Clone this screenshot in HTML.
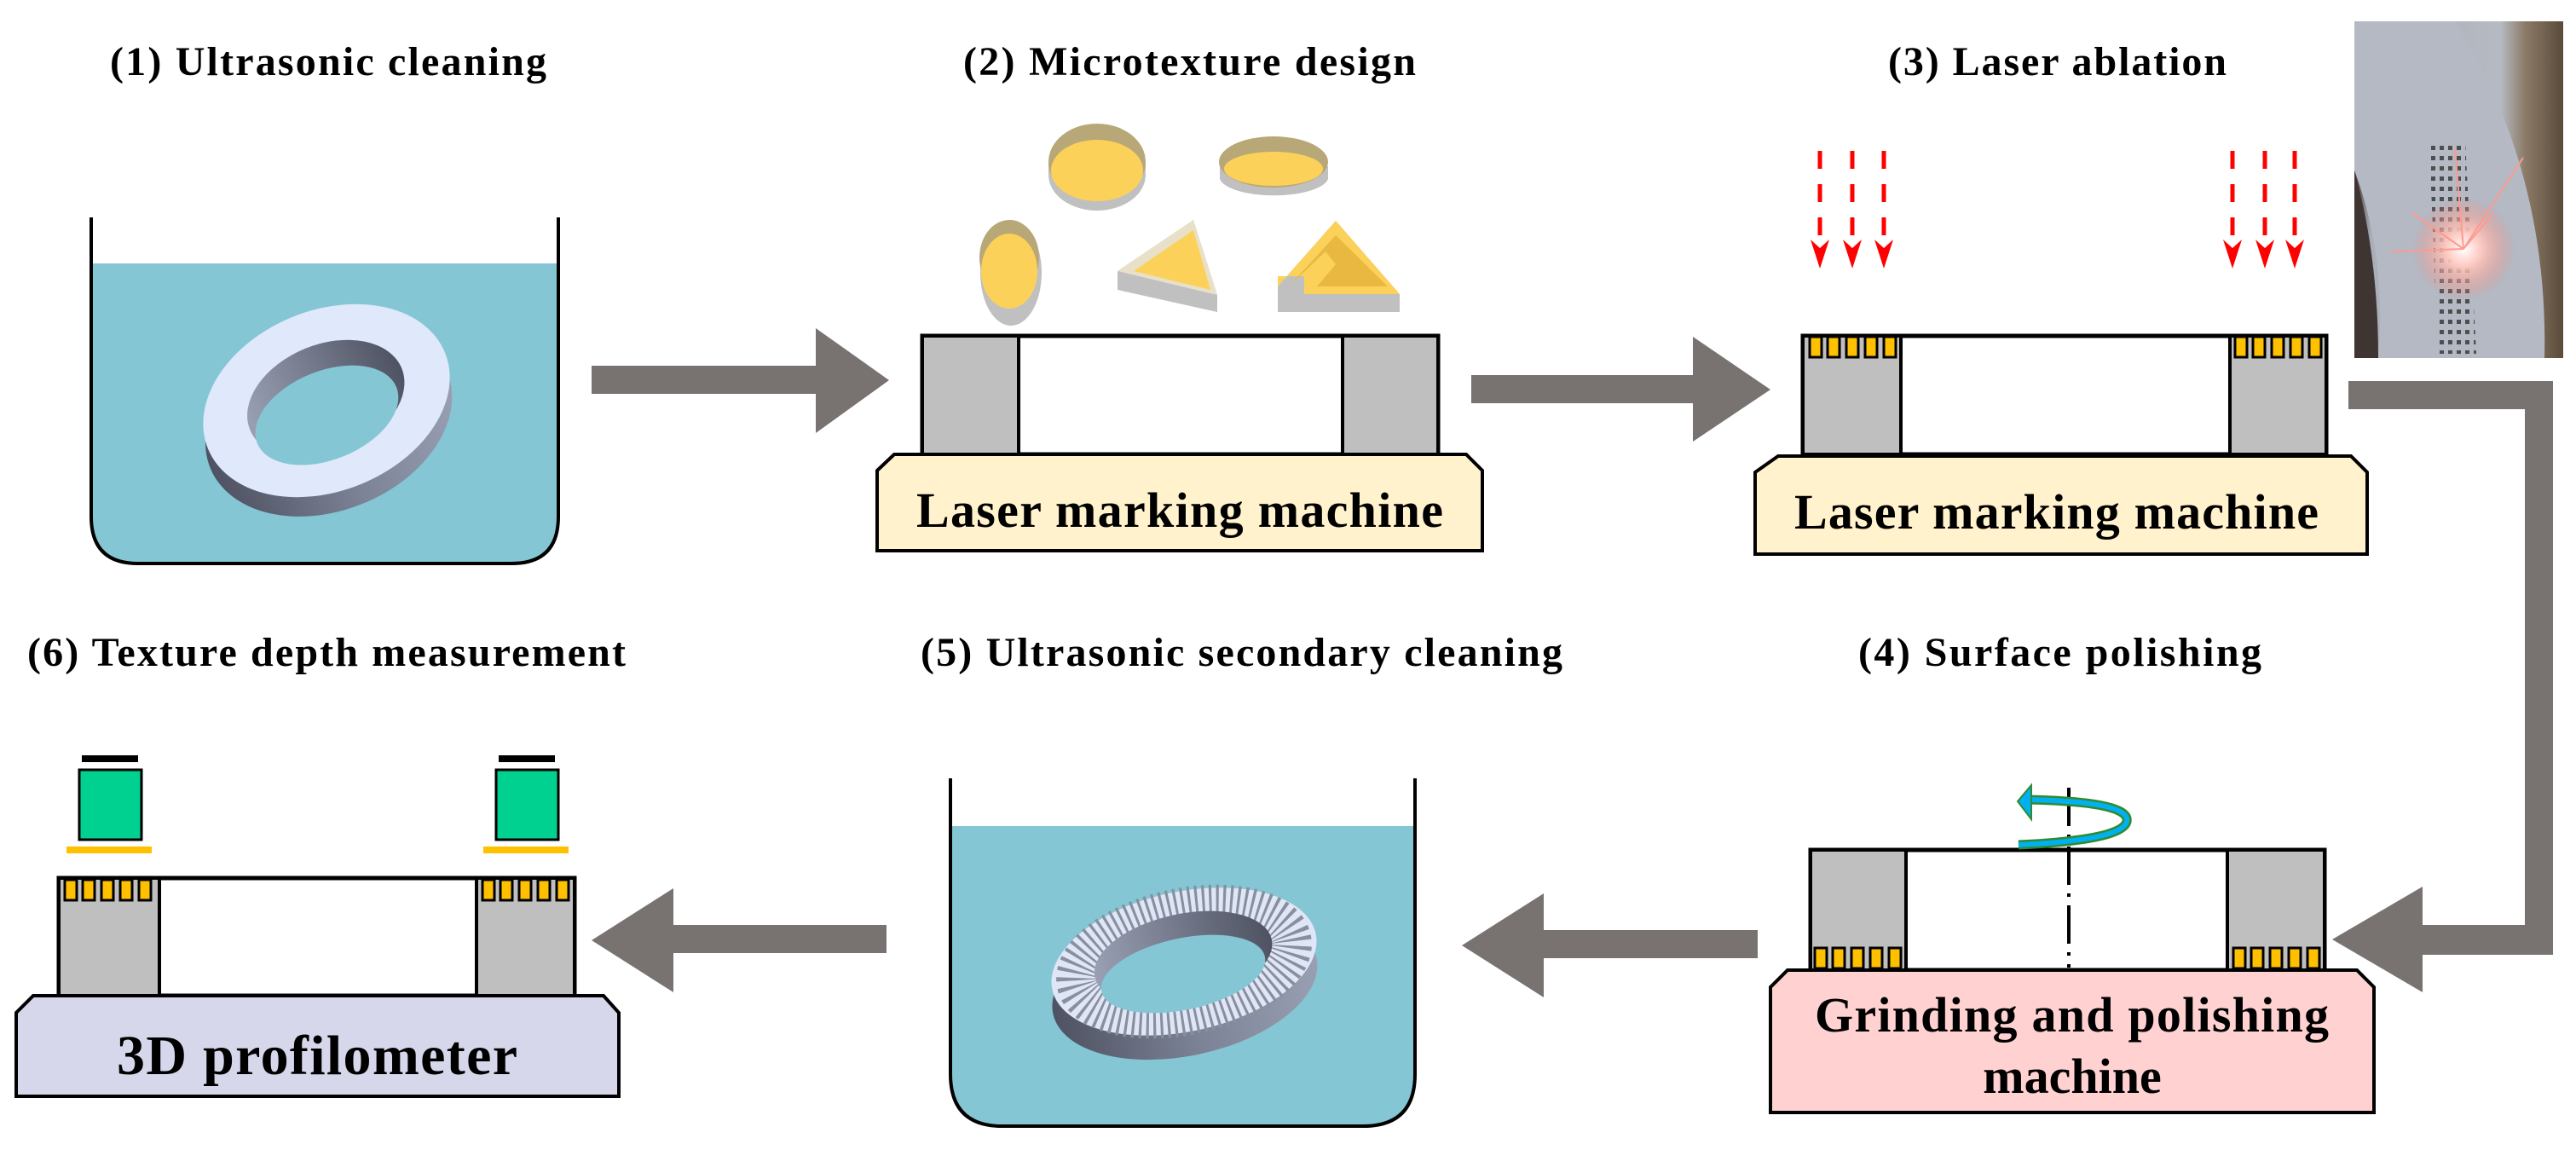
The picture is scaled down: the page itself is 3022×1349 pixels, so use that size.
<!DOCTYPE html>
<html><head><meta charset="utf-8"><style>
html,body{margin:0;padding:0;background:#fff}
svg{display:block}
text{font-family:"Liberation Serif",serif;font-weight:bold;fill:#000}
</style></head><body>
<svg width="3022" height="1349" viewBox="0 0 3022 1349" xmlns="http://www.w3.org/2000/svg">
<defs>
<linearGradient id="side" x1="0" x2="1" y1="0" y2="0"><stop offset="0" stop-color="#4e5262"/><stop offset="0.5" stop-color="#7c8296"/><stop offset="1" stop-color="#9aa0b4"/></linearGradient>
<linearGradient id="inner" x1="0" x2="1"><stop offset="0" stop-color="#9aa0b4"/><stop offset="1" stop-color="#4e5262"/></linearGradient>
<linearGradient id="photo" x1="0" x2="1" y1="0" y2="0"><stop offset="0" stop-color="#4a3a38"/><stop offset="0.08" stop-color="#a9aeb8"/><stop offset="0.7" stop-color="#b6bac2"/><stop offset="0.82" stop-color="#8a7a66"/><stop offset="1" stop-color="#5a4a3a"/></linearGradient>
<radialGradient id="glow"><stop offset="0" stop-color="#fff"/><stop offset="0.3" stop-color="#ffd0c8"/><stop offset="1" stop-color="#ff8070" stop-opacity="0"/></radialGradient>
<pattern id="dots" width="10" height="12" patternUnits="userSpaceOnUse"><rect x="2" y="3" width="5" height="5" fill="#333"/></pattern>
<g id="yel">
 <rect x="0" y="0" width="14" height="24" fill="#ffc000" stroke="#000" stroke-width="3"/>
 <rect x="21" y="0" width="14" height="24" fill="#ffc000" stroke="#000" stroke-width="3"/>
 <rect x="43" y="0" width="14" height="24" fill="#ffc000" stroke="#000" stroke-width="3"/>
 <rect x="65" y="0" width="14" height="24" fill="#ffc000" stroke="#000" stroke-width="3"/>
 <rect x="87" y="0" width="14" height="24" fill="#ffc000" stroke="#000" stroke-width="3"/>
</g>
<g id="redarrow">
 <line x1="0" y1="0" x2="0" y2="102" stroke="#ff0000" stroke-width="5" stroke-dasharray="21,18"/>
 <polygon points="-11,104 0,114 11,104 0,138" fill="#ff0000"/>
</g>
</defs>

<!-- Titles -->
<text x="129" y="88" font-size="48" textLength="512" lengthAdjust="spacing">(1) Ultrasonic  cleaning</text>
<text x="1130" y="88" font-size="48" textLength="531" lengthAdjust="spacing">(2) Microtexture  design</text>
<text x="2215" y="88" font-size="48" textLength="397" lengthAdjust="spacing">(3) Laser  ablation</text>
<text x="32" y="781" font-size="48" textLength="702" lengthAdjust="spacing">(6) Texture  depth  measurement</text>
<text x="1080" y="781" font-size="48" textLength="753" lengthAdjust="spacing">(5) Ultrasonic  secondary  cleaning</text>
<text x="2180" y="781" font-size="48" textLength="473" lengthAdjust="spacing">(4) Surface  polishing</text>

<!-- Beaker 1 -->
<path d="M107,309 H655 V606 Q655,661 600,661 H162 Q107,661 107,606 Z" fill="#84c6d3"/>
<path d="M107,255 V606 Q107,661 162,661 H600 Q655,661 655,606 V255" fill="none" stroke="#000" stroke-width="4"/>
<!-- Ring 1 -->
<g transform="translate(383,470) rotate(-22)">
 <ellipse cx="-6" cy="22" rx="150" ry="106" fill="url(#side)"/>
 <ellipse cx="0" cy="0" rx="150" ry="106" fill="#e0e8fb"/>
 <ellipse cx="0" cy="-2" rx="96" ry="64" fill="url(#inner)"/>
 <ellipse cx="-6" cy="16" rx="88" ry="52" fill="#84c6d3"/>
</g>

<!-- Arrow 1 -->
<polygon points="694,429 957,429 957,385 1043,446 957,508 957,462 694,462" fill="#787371"/>

<!-- Machine 2 -->
<rect x="1082" y="394" width="605" height="139" fill="#fff" stroke="#000" stroke-width="5"/>
<rect x="1082" y="394" width="113" height="139" fill="#bfbfbf" stroke="#000" stroke-width="4"/>
<rect x="1575" y="394" width="112" height="139" fill="#bfbfbf" stroke="#000" stroke-width="4"/>
<path d="M1049,533 H1720 L1739,552 V646 H1029 V552 Z" fill="#fff2cc" stroke="#000" stroke-width="4"/>
<text x="1075" y="618" font-size="58" textLength="618" lengthAdjust="spacing">Laser  marking  machine</text>
<!-- shapes -->
<g>
 <path d="M1230,190 V205 A57,42 0 0 0 1344,205 V190 Z" fill="#c0c0c0"/>
 <ellipse cx="1287" cy="190" rx="57" ry="45" fill="#b8a878"/>
 <ellipse cx="1287" cy="200" rx="54" ry="36" fill="#fcd15a"/>
 <path d="M1431,195 V210 A64,22 0 0 0 1558,210 V195 Z" fill="#c0c0c0"/>
 <ellipse cx="1494" cy="190" rx="64" ry="30" fill="#b8a878"/>
 <ellipse cx="1494" cy="198" rx="58" ry="20" fill="#fcd15a"/>
 <ellipse cx="1186" cy="320" rx="36" ry="62" fill="#c0c0c0"/>
 <ellipse cx="1184" cy="302" rx="35" ry="44" fill="#b8a878"/>
 <ellipse cx="1184" cy="318" rx="33" ry="44" fill="#fcd15a"/>
 <polygon points="1311,318 1400,258 1428,346 1428,366 1311,340" fill="#c0c0c0"/>
 <polygon points="1311,318 1400,258 1428,346" fill="#e8e0c8"/>
 <polygon points="1330,318 1400,270 1420,340" fill="#fcd15a"/>
 <polygon points="1499,336 1567,259 1642,345 1642,366 1499,366" fill="#c0c0c0"/>
 <polygon points="1499,336 1567,259 1642,345 1530,345 1530,324 1499,324" fill="#fcd15a"/>
 <polygon points="1512,336 1567,276 1628,336 1545,336 1567,310 1555,295" fill="#e8b840"/>
</g>

<!-- Arrow 2 -->
<polygon points="1726,440 1986,440 1986,395 2077,457 1986,518 1986,473 1726,473" fill="#787371"/>

<!-- Machine 3 -->
<rect x="2115" y="394" width="614" height="139" fill="#fff" stroke="#000" stroke-width="5"/>
<rect x="2115" y="394" width="115" height="139" fill="#bfbfbf" stroke="#000" stroke-width="4"/>
<rect x="2616" y="394" width="113" height="139" fill="#bfbfbf" stroke="#000" stroke-width="4"/>
<use href="#yel" x="2123" y="395"/>
<use href="#yel" x="2622" y="395"/>
<path d="M2086,535 H2758 L2777,554 V650 H2059 V554 Z" fill="#fff2cc" stroke="#000" stroke-width="4"/>
<text x="2105" y="620" font-size="58" textLength="615" lengthAdjust="spacing">Laser  marking  machine</text>
<use href="#redarrow" x="2135" y="177"/>
<use href="#redarrow" x="2173" y="177"/>
<use href="#redarrow" x="2210" y="177"/>
<use href="#redarrow" x="2619" y="177"/>
<use href="#redarrow" x="2657" y="177"/>
<use href="#redarrow" x="2692" y="177"/>

<!-- Photo -->
<rect x="2762" y="25" width="245" height="395" fill="url(#photo)"/>
<path d="M2762,25 H2880 Q2990,200 2985,420 H2790 Q2800,300 2762,200 Z" fill="#b4b9c3"/>
<path d="M2762,200 Q2790,300 2790,420 H2762 Z" fill="#3e3432"/>
<polygon points="2850,170 2892,165 2905,415 2860,415" fill="url(#dots)" opacity="0.8"/>
<circle cx="2890" cy="292" r="60" fill="url(#glow)"/>
<g stroke="#ff9a90" stroke-width="2">
<line x1="2890" y1="292" x2="2960" y2="185"/><line x1="2890" y1="292" x2="2805" y2="295"/><line x1="2890" y1="292" x2="2830" y2="250"/><line x1="2890" y1="292" x2="2880" y2="175"/><line x1="2890" y1="292" x2="2925" y2="250"/></g>

<!-- L connector 3->4 -->
<polygon points="2755,447 2995,447 2995,1120 2842,1120 2842,1164 2736,1102 2842,1040 2842,1085 2962,1085 2962,480 2755,480" fill="#787371"/>

<!-- Machine 4 -->
<rect x="2124" y="997" width="603" height="141" fill="#fff" stroke="#000" stroke-width="5"/>
<rect x="2124" y="997" width="112" height="141" fill="#bfbfbf" stroke="#000" stroke-width="4"/>
<rect x="2613" y="997" width="114" height="141" fill="#bfbfbf" stroke="#000" stroke-width="4"/>
<use href="#yel" x="2129" y="1112"/>
<use href="#yel" x="2620" y="1112"/>
<line x1="2427" y1="924" x2="2427" y2="1135" stroke="#000" stroke-width="4" stroke-dasharray="45,10,4,10"/>
<path d="M2368,991 Q2500,985 2495,960 Q2490,940 2378,938" fill="none" stroke="#2e8b30" stroke-width="11"/>
<path d="M2368,991 Q2500,985 2495,960 Q2490,940 2378,938" fill="none" stroke="#00b0f0" stroke-width="6"/>
<polygon points="2383,921 2367,940 2383,961" fill="#00b0f0" stroke="#2e8b30" stroke-width="2"/>
<path d="M2097,1138 H2765 L2785,1158 V1305 H2077 V1158 Z" fill="#ffd1d1" stroke="#000" stroke-width="4"/>
<text x="2129" y="1210" font-size="58" textLength="603" lengthAdjust="spacing">Grinding  and  polishing</text>
<text x="2431" y="1282" font-size="58" text-anchor="middle">machine</text>

<!-- Arrow 4->5 -->
<polygon points="2062,1091 1811,1091 1811,1048 1715,1109 1811,1170 1811,1124 2062,1124" fill="#787371"/>

<!-- Beaker 5 -->
<path d="M1115,969 H1660 V1260 Q1660,1321 1599,1321 H1176 Q1115,1321 1115,1260 Z" fill="#84c6d3"/>
<path d="M1115,913 V1260 Q1115,1321 1176,1321 H1599 Q1660,1321 1660,1260 V913" fill="none" stroke="#000" stroke-width="4"/>
<g transform="translate(1389,1128) rotate(-12)">
 <ellipse cx="-5" cy="28" rx="158" ry="82" fill="url(#side)"/>
 <ellipse cx="0" cy="0" rx="158" ry="82" fill="#dfe6f8"/>
 <ellipse cx="0" cy="0" rx="128" ry="62" fill="none" stroke="#8a8f9c" stroke-width="48" stroke-dasharray="3,5"/>
 <ellipse cx="0" cy="-4" rx="106" ry="52" fill="url(#inner)"/>
 <ellipse cx="-4" cy="14" rx="98" ry="42" fill="#84c6d3"/>
</g>

<!-- Arrow 5->6 -->
<polygon points="1040,1085 790,1085 790,1042 694,1103 790,1164 790,1118 1040,1118" fill="#787371"/>

<!-- Machine 6 -->
<rect x="69" y="1030" width="605" height="138" fill="#fff" stroke="#000" stroke-width="5"/>
<rect x="69" y="1030" width="118" height="138" fill="#bfbfbf" stroke="#000" stroke-width="4"/>
<rect x="559" y="1030" width="115" height="138" fill="#bfbfbf" stroke="#000" stroke-width="4"/>
<use href="#yel" x="76" y="1032"/>
<use href="#yel" x="566" y="1032"/>
<path d="M39,1168 H708 L726,1188 V1286 H19 V1188 Z" fill="#d6d7ea" stroke="#000" stroke-width="4"/>
<text x="137" y="1260" font-size="66" textLength="470" lengthAdjust="spacing">3D profilometer</text>
<!-- sensors -->
<rect x="96" y="886" width="66" height="8" fill="#000"/>
<rect x="93" y="903" width="73" height="82" fill="#00d090" stroke="#000" stroke-width="3"/>
<rect x="78" y="993" width="100" height="8" fill="#ffc000"/>
<rect x="585" y="886" width="66" height="8" fill="#000"/>
<rect x="582" y="903" width="73" height="82" fill="#00d090" stroke="#000" stroke-width="3"/>
<rect x="567" y="993" width="100" height="8" fill="#ffc000"/>
</svg>
</body></html>
